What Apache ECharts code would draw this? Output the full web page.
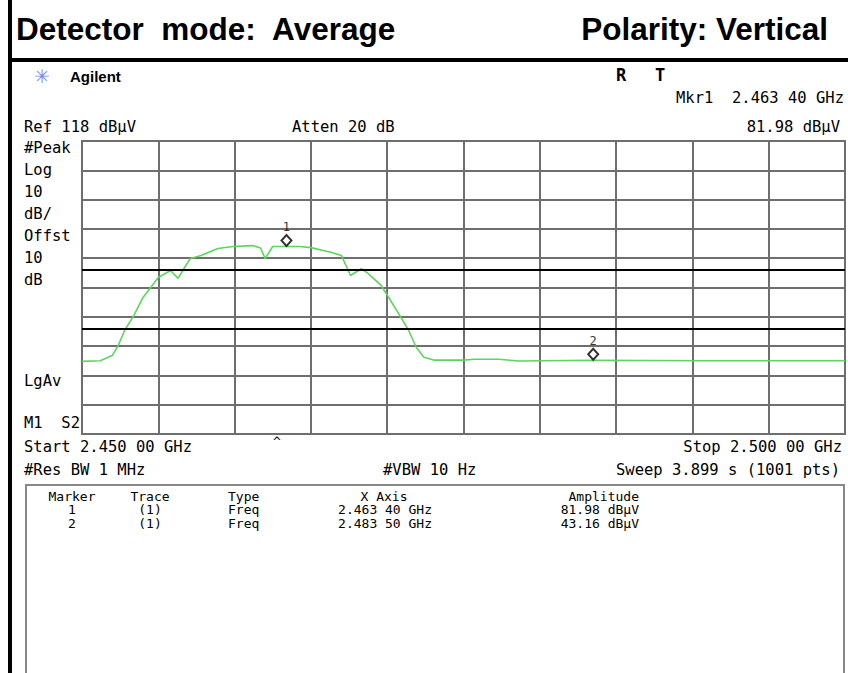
<!DOCTYPE html>
<html>
<head>
<meta charset="utf-8">
<script src="https://cdn.jsdelivr.net/npm/echarts@6/dist/echarts.min.js"></script>
<style>
  html, body { margin: 0; padding: 0; background: #fff; }
  #main { width: 848px; height: 673px; }
</style>
</head>
<body>
<div id="main"></div>
<script>
// 频谱仪读数 (GHz / dBμV)
let traceFreq = [2.4500, 2.4512, 2.4520, 2.4524, 2.4528, 2.4534, 2.4540, 2.4550, 2.4558, 2.4563,
  2.4566, 2.4571, 2.4578, 2.4589, 2.4599, 2.4612, 2.4617, 2.4620, 2.4625, 2.4634,
  2.4643, 2.4650, 2.4663, 2.4670, 2.4676, 2.4683, 2.4687, 2.4696, 2.4701, 2.4709,
  2.4714, 2.4719, 2.4724, 2.4731, 2.4750, 2.4757, 2.4773, 2.4786, 2.4835, 2.4906, 2.5000];
let traceLevel = [42.8, 43.0, 44.9, 48.5, 53.4, 58.5, 64.6, 71.4, 73.8, 71.1,
  73.8, 77.9, 78.9, 81.3, 82.0, 82.3, 81.5, 77.9, 82.0, 81.98,
  82.0, 81.6, 80.0, 78.9, 72.1, 74.4, 73.0, 68.7, 64.6, 57.8,
  53.4, 47.6, 44.2, 43.2, 43.2, 43.5, 43.5, 42.9, 43.16, 43.0, 43.0];
let markerFreq = [2.4634, 2.4835];
let markerLevel = [81.98, 43.16];
let markerName = ['1', '2'];
let limitLevel = [74, 54];   // 限值线
let refLevel = 118;
let xStart = 2.45, xStop = 2.50;

let mono = '"DejaVu Sans Mono", "Liberation Mono", monospace';
let sans = '"Liberation Sans", Arial, sans-serif';

function txt(x, y, s, font, align, color) {
  return {
    type: 'text', x: x, y: y, silent: true,
    style: { text: s, font: font, fill: color || '#000', align: align || 'left', verticalAlign: 'middle' }
  };
}

let tableRows = [
  ['Marker', 'Trace', 'Type', 'X Axis', 'Amplitude'],
  ['1', '(1)', 'Freq', '2.463 40 GHz', '81.98 dBμV'],
  ['2', '(1)', 'Freq', '2.483 50 GHz', '43.16 dBμV']
];

let graphics = [
  // 边框
  { type: 'rect', shape: { x: 8, y: 0, width: 4, height: 673 }, style: { fill: '#000' } },
  { type: 'rect', shape: { x: 8, y: 58, width: 840, height: 4 }, style: { fill: '#000' } },
  { type: 'rect', shape: { x: 26, y: 485, width: 818, height: 200 }, style: { fill: 'none', stroke: '#888', lineWidth: 2 } },
  txt(16, 29, 'Detector  mode:  Average', 'bold 31.5px ' + sans),
  txt(828, 29, 'Polarity: Vertical', 'bold 31.5px ' + sans, 'right'),
  txt(42, 76, '✳', '19px "DejaVu Sans"', 'center', '#7b88e6'),
  txt(70, 76, 'Agilent', 'bold 15px ' + sans),
  txt(621, 75, 'R', 'bold 17px ' + mono, 'center'),
  txt(660, 75, 'T', 'bold 17px ' + mono, 'center'),
  txt(844, 98, 'Mkr1  2.463 40 GHz', '15.5px ' + mono, 'right'),
  txt(24, 127, 'Ref 118 dBμV', '15.5px ' + mono),
  txt(292, 127, 'Atten 20 dB', '15.5px ' + mono),
  txt(840, 127, '81.98 dBμV', '15.5px ' + mono, 'right'),
  txt(24, 148, '#Peak', '15.5px ' + mono),
  txt(24, 170, 'Log', '15.5px ' + mono),
  txt(24, 192, '10', '15.5px ' + mono),
  txt(24, 214, 'dB/', '15.5px ' + mono),
  txt(24, 236, 'Offst', '15.5px ' + mono),
  txt(24, 258, '10', '15.5px ' + mono),
  txt(24, 280, 'dB', '15.5px ' + mono),
  txt(24, 381, 'LgAv', '15.5px ' + mono),
  txt(24, 423, 'M1  S2', '15.5px ' + mono),
  txt(277, 441, '^', '13px ' + mono, 'center'),
  txt(24, 447, 'Start 2.450 00 GHz', '15.5px ' + mono),
  txt(842, 447, 'Stop 2.500 00 GHz', '15.5px ' + mono, 'right'),
  txt(24, 470, '#Res BW 1 MHz', '15.5px ' + mono),
  txt(383, 470, '#VBW 10 Hz', '15.5px ' + mono),
  txt(840, 470, 'Sweep 3.899 s (1001 pts)', '15.5px ' + mono, 'right')
];
// 标记表格
let colX = [72, 150, 228, 384, 639];
let colAlign = ['center', 'center', 'left', 'center', 'right'];
tableRows.forEach((row, r) => {
  row.forEach((cell, c) => {
    let x = colX[c];
    let align = colAlign[c];
    if (r > 0 && c === 3) { x = 432; align = 'right'; }
    graphics.push(txt(x, 496 + r * 13.5, cell, '13px ' + mono, align));
  });
});

let option = {
  animation: false,
  backgroundColor: '#fff',
  grid: { left: 82, top: 141, width: 763, height: 293, show: true, borderColor: '#6e6e6e', borderWidth: 2, backgroundColor: 'transparent' },
  xAxis: {
    type: 'value', min: xStart, max: xStop, interval: 0.005,
    axisLine: { show: false }, axisTick: { show: false }, axisLabel: { show: false },
    splitLine: { show: true, lineStyle: { color: '#6e6e6e', width: 2 } }
  },
  yAxis: {
    type: 'value', min: refLevel - 100, max: refLevel, interval: 10,
    axisLine: { show: false }, axisTick: { show: false }, axisLabel: { show: false },
    splitLine: { show: true, lineStyle: { color: '#6e6e6e', width: 2 } }
  },
  series: [
    {
      name: 'Trace 1',
      type: 'line',
      data: traceFreq.map((f, i) => [f, traceLevel[i]]),
      showSymbol: false,
      lineStyle: { color: '#5cd65c', width: 1.6 },
      markLine: {
        silent: true, symbol: 'none', label: { show: false },
        lineStyle: { color: '#000', width: 2, type: 'solid' },
        data: limitLevel.map(v => ({ yAxis: v }))
      },
      z: 3
    },
    {
      name: 'Markers',
      type: 'scatter',
      data: markerFreq.map((f, i) => ({ value: [f, markerLevel[i]], name: markerName[i] })),
      symbol: 'diamond',
      symbolSize: [10, 11],
      symbolOffset: [0, -6],
      itemStyle: { color: '#fff', borderColor: '#000', borderWidth: 2 },
      label: { show: true, position: 'top', distance: 1, formatter: '{b}', color: '#000', fontSize: 12, fontFamily: mono },
      z: 4
    }
  ],
  graphic: graphics
};

let myChart = echarts.init(document.getElementById('main'), null, { renderer: 'svg' });
myChart.setOption(option);
</script>
</body>
</html>
